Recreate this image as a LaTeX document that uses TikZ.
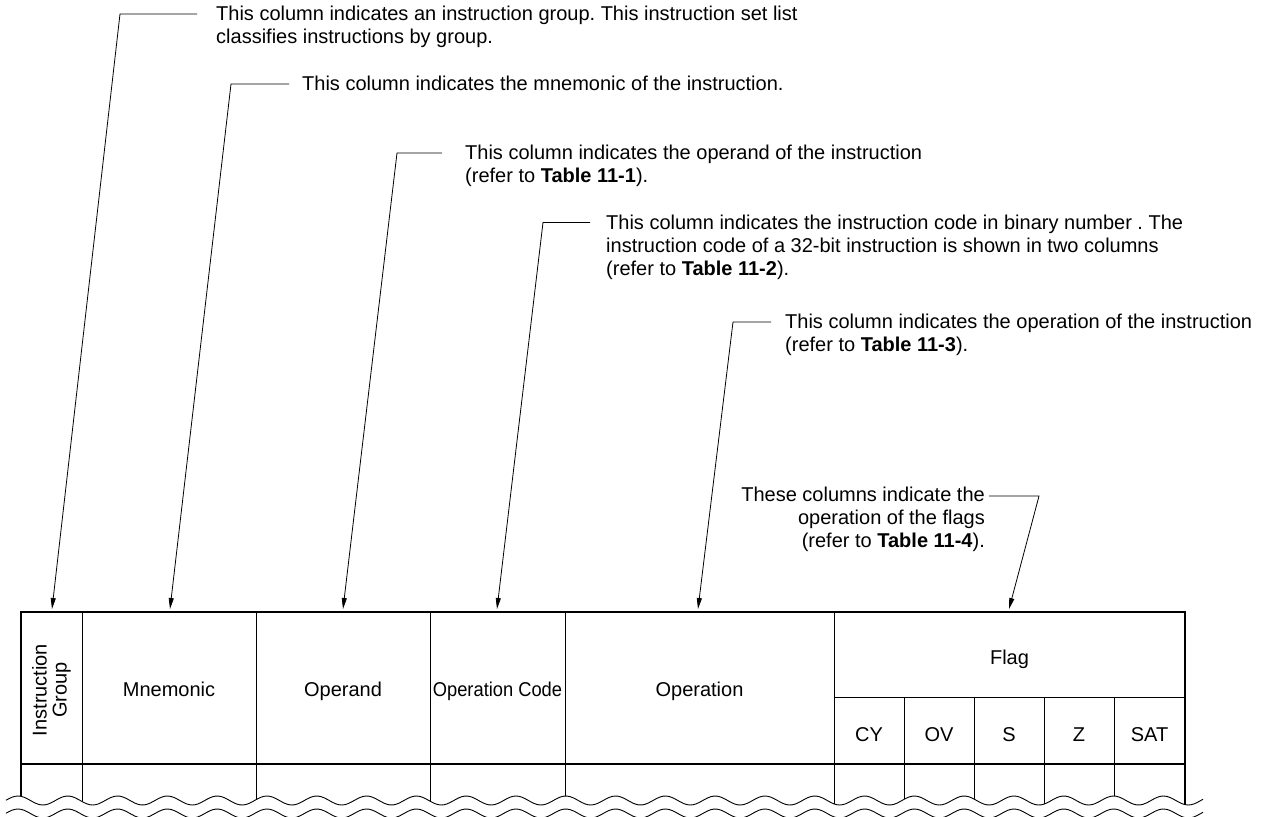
\documentclass[tikz,border=0pt]{standalone}
\usepackage{fontspec}
\setmainfont{Liberation Sans}
\usetikzlibrary{arrows.meta}
\frenchspacing
\begin{document}
\begin{tikzpicture}[x=1pt,y=-1pt,
  txt/.style={font=\fontsize{20}{20}\selectfont, inner sep=0pt},
  ann/.style={txt, anchor=base west},
  annr/.style={txt, anchor=base east},
  hdr/.style={txt, anchor=base},
  boldline/.style={line width=2.4pt},
  thinline/.style={line width=0.9pt},
  lead/.style={line width=0.8pt},
  arr/.style={lead, -{Triangle[length=11pt,width=5pt]}},
]
\useasboundingbox (0,0) rectangle (1276,816);
\def\wy#1{800.5-4.5*cos(7.2289*(#1-18))}

% ---------- table ----------
\foreach \x in {82,256,430,565,834}
  \draw[thinline] (\x,612) -- (\x,{\wy{\x}});
\foreach \x in {904,974,1044,1114}
  \draw[thinline] (\x,697) -- (\x,{\wy{\x}});
\draw[thinline] (834,697) -- (1185,697);
\draw[boldline] (21,764) -- (1185,764);
\draw[boldline] (21,{\wy{21}}) -- (21,612) -- (1185,612) -- (1185,{\wy{1185}});
\begin{scope}
\clip (0,0) rectangle (1276,816);
\draw[thinline] plot[domain=6:1203,samples=400] (\x,{\wy{\x}});
\draw[thinline] plot[domain=6:1203,samples=400] (\x,{\wy{\x}+13});
\end{scope}

% header labels
\node[txt,anchor=center,rotate=90,align=center] (hIG) at (51.5,690) {Instruction\\Group};
\node[hdr] (hMn) at (169,696) {Mnemonic};
\node[hdr] (hOp) at (343,696) {Operand};
\node[hdr] (hOC) at (497.5,696) {\scalebox{0.915}[1]{Operation Code}};
\node[hdr] (hOn) at (699.5,696) {Operation};
\node[hdr] (hFl) at (1009.5,664) {Flag};
\node[hdr] (hCY) at (869,741.5) {CY};
\node[hdr] (hOV) at (939,741.5) {OV};
\node[hdr] (hS) at (1009,741.5) {S};
\node[hdr] (hZ) at (1079,741.5) {Z};
\node[hdr] (hSAT) at (1149.5,741.5) {SAT};

% ---------- annotations ----------
\node[ann] (t1a) at (216,21) {This column indicates an instruction group. This instruction set list};
\node[ann] (t1b) at (216,44) {classifies instructions by group.};
\node[ann] (t2a) at (302,90.5) {This column indicates the mnemonic of the instruction.};
\node[ann] (t3a) at (465,159.5) {This column indicates the operand of the instruction};
\node[ann] (t3b) at (465,182.5) {(refer to \textbf{Table 11-1}).};
\node[ann] (t4a) at (606,229) {This column indicates the instruction code in binary number . The};
\node[ann] (t4b) at (606,252) {instruction code of a 32-bit instruction is shown in two columns};
\node[ann] (t4c) at (606,275) {(refer to \textbf{Table 11-2}).};
\node[ann] (t5a) at (785,328.5) {This column indicates the operation of the instruction};
\node[ann] (t5b) at (785,351.5) {(refer to \textbf{Table 11-3}).};
\node[annr] (t6a) at (985,501) {These columns indicate the};
\node[annr] (t6b) at (985,524) {operation of the flags};
\node[annr] (t6c) at (985,547) {(refer to \textbf{Table 11-4}).};

% leader coordinates
\coordinate (e1) at (197,14);   \coordinate (k1) at (120,14);   \coordinate (a1) at (52,609);
\coordinate (e2) at (289,84);   \coordinate (k2) at (231,84);   \coordinate (a2) at (170,609);
\coordinate (e3) at (442,153);  \coordinate (k3) at (397,153);  \coordinate (a3) at (343,609);
\coordinate (e4) at (590,222.5);\coordinate (k4) at (543,222.5);\coordinate (a4) at (497,609);
\coordinate (e5) at (771,322);  \coordinate (k5) at (733,322);  \coordinate (a5) at (698,609);
\coordinate (e6) at (989,496);  \coordinate (k6) at (1039,496); \coordinate (a6) at (1009,609);

\draw[arr] (e1) -- (k1) -- (a1);
\draw[arr] (e2) -- (k2) -- (a2);
\draw[arr] (e3) -- (k3) -- (a3);
\draw[arr] (e4) -- (k4) -- (a4);
\draw[arr] (e5) -- (k5) -- (a5);
\draw[arr] (e6) -- (k6) -- (a6);
\end{tikzpicture}
\end{document}
